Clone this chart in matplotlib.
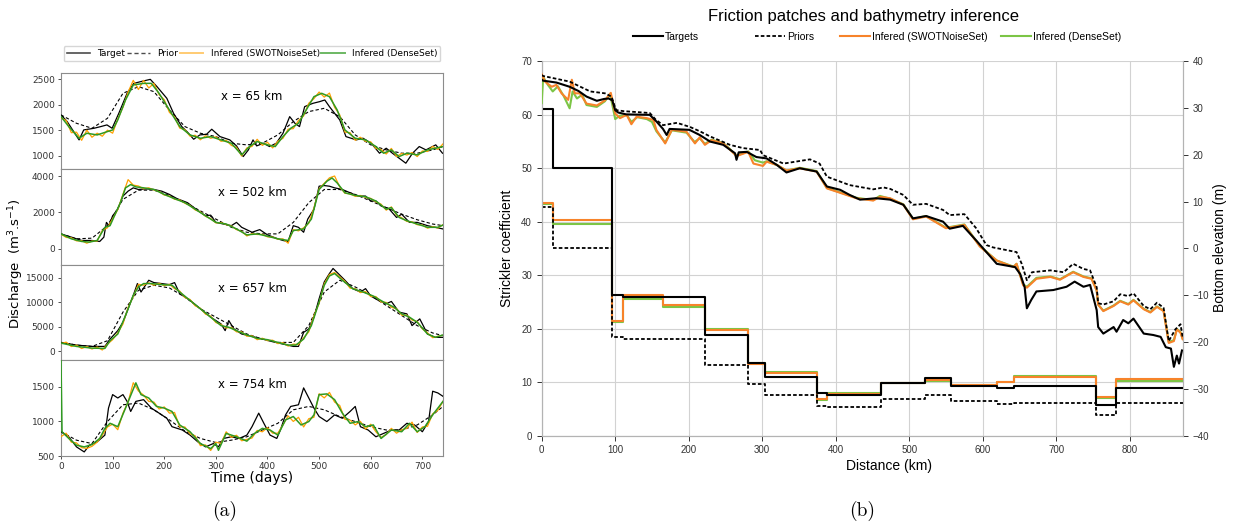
import numpy as np
import matplotlib.pyplot as plt
from matplotlib.lines import Line2D

W, H = 1237, 527

# ---------------- (a) discharge series ----------------
stations = ['x = 65 km', 'x = 502 km', 'x = 657 km', 'x = 754 km']
ylims = [(740, 2625), (-870, 4400), (-1790, 17730), (500, 1885)]
yticks = [[1000, 1500, 2000, 2500], [0, 2000, 4000], [0, 5000, 10000, 15000], [500, 1000, 1500]]

prior_days = [0, 30, 60, 90, 120, 150, 180, 210, 240, 270, 300, 330, 360, 390, 420, 450,
              480, 510, 540, 570, 600, 630, 660, 690, 720, 740]
swot_days = np.arange(0, 741, 10)

# x = 65 km
tgt1_days = [0, 12, 35, 44, 64, 77, 89, 99, 112, 128, 141, 154, 173, 186, 205, 218, 234, 244, 257, 269,
             282, 292, 308, 327, 340, 353, 363, 372, 379, 392, 404, 417, 430, 443, 453, 462, 472, 488,
             501, 511, 520, 540, 552, 572, 585, 601, 617, 630, 642, 655, 668, 681, 694, 707, 726, 739]
tgt1 = [1800, 1668, 1308, 1504, 1537, 1570, 1603, 1537, 1832, 2225, 2420, 2454, 2500, 2356, 2127, 1832,
        1570, 1472, 1321, 1406, 1419, 1518, 1373, 1308, 1190, 980, 1111, 1308, 1190, 1242, 1177, 1242,
        1439, 1766, 1636, 1570, 1963, 2028, 2061, 2094, 1963, 1701, 1373, 1308, 1341, 1242, 1046, 1144,
        1046, 948, 849, 1046, 1177, 1111, 1210, 1046]
prior1 = [1800, 1635, 1537, 1733, 2225, 2356, 2258, 1897, 1570, 1439, 1373, 1242, 1210, 1242, 1406,
          1668, 1865, 1930, 1766, 1406, 1210, 1111, 1046, 1046, 1111, 1177]
swot1 = [1740, 1690, 1450, 1460, 1300, 1500, 1360, 1440, 1380, 1500,
         1440, 1720, 1950, 2250, 2480, 2300, 2480, 2330, 2420, 2200,
         2100, 1850, 1760, 1540, 1510, 1380, 1400, 1310, 1390, 1340,
         1370, 1280, 1300, 1200, 1160, 990, 1150, 1180, 1320, 1200,
         1260, 1150, 1280, 1340, 1520, 1530, 1690, 1780, 2030, 2120,
         2250, 2150, 2230, 1950, 1800, 1460, 1450, 1300, 1360, 1280,
         1270, 1140, 1120, 1030, 1140, 980, 1040, 1010, 1060, 980,
         1090, 1080, 1180, 1120, 1230]
dense1_days = [0, 15, 35, 50, 70, 90, 100, 110, 125, 140, 160, 175, 190, 210, 230, 250, 270, 290, 310,
               330, 350, 365, 380, 400, 415, 430, 445, 460, 475, 490, 505, 520, 535, 550, 570, 590, 610,
               625, 640, 655, 670, 690, 710, 740]
dense1 = [1767, 1570, 1340, 1439, 1406, 1472, 1504, 1701, 2094, 2389, 2421, 2421, 2225, 1897, 1570, 1406,
          1340, 1373, 1308, 1242, 1013, 1177, 1275, 1210, 1177, 1373, 1537, 1635, 1897, 2159, 2225, 2159,
          1897, 1504, 1340, 1308, 1177, 1046, 1111, 980, 1046, 1013, 1111, 1177]

# x = 502 km
tgt2_days = [0, 20, 40, 60, 75, 83, 88, 93, 100, 110, 120, 130, 140, 150, 165, 180, 195, 210, 225, 245,
             260, 280, 290, 300, 315, 330, 340, 350, 370, 385, 400, 420, 430, 440, 450, 460, 470, 478,
             490, 500, 510, 520, 530, 545, 560, 575, 590, 600, 610, 620, 635, 650, 660, 675, 690, 710,
             725, 740]
tgt2 = [815, 634, 453, 453, 398, 634, 1448, 1267, 1810, 2172, 2896, 3168, 3349, 3258, 3294, 3258, 3168,
        2987, 2751, 2534, 2208, 1810, 1846, 1448, 1358, 1267, 1448, 1177, 905, 1050, 760, 543, 453, 398,
        1267, 1177, 905, 1629, 2172, 3439, 3475, 3439, 3349, 3258, 3077, 2896, 2896, 2625, 2625, 2353,
        2208, 1720, 1900, 1448, 1448, 1267, 1177, 1086]
prior2 = [815, 543, 579, 1267, 2715, 3222, 3222, 2932, 2534, 2082, 1629, 1177, 905, 815, 815, 1448,
          2534, 3258, 3258, 2987, 2625, 2263, 1900, 1593, 1358, 1267]
swot2 = [800, 620, 600, 430, 440, 300, 420, 420, 1000, 1150,
         1650, 2150, 3000, 3800, 3500, 3450, 3300, 3350, 3230, 3150,
         2950, 2900, 2720, 2680, 2500, 2380, 2130, 2030, 1780, 1660,
         1420, 1440, 1330, 1250, 1050, 950, 700, 830, 780, 790,
         650, 640, 520, 540, 300, 1050, 980, 1150, 1400, 2250,
         3300, 3600, 3900, 4000, 3400, 3050, 3020, 2880, 2930, 2820,
         2770, 2580, 2450, 2120, 2300, 1850, 1700, 1500, 1480, 1320,
         1300, 1130, 1210, 1140, 1320]
dense2_days = [0, 20, 40, 55, 70, 85, 95, 105, 115, 125, 135, 145, 160, 180, 200, 220, 240, 260, 280,
               300, 320, 340, 360, 380, 400, 420, 440, 450, 470, 485, 500, 515, 525, 535, 550, 570, 590,
               610, 630, 640, 655, 670, 690, 710, 730, 740]
dense2 = [815, 543, 398, 362, 453, 1177, 1267, 1900, 2534, 3349, 3530, 3403, 3349, 3258, 2987, 2751,
          2534, 2172, 1810, 1448, 1358, 1086, 760, 815, 688, 543, 453, 996, 1086, 1629, 3258, 3711, 3892,
          3620, 3077, 2932, 2860, 2625, 2172, 2263, 1720, 1539, 1358, 1177, 1177, 1303]

# x = 657 km
tgt3_days = [0, 30, 60, 85, 95, 110, 120, 130, 140, 148, 155, 170, 180, 195, 210, 220, 230, 250, 270,
             290, 310, 318, 325, 335, 350, 370, 390, 410, 430, 450, 460, 470, 480, 490, 500, 510, 520,
             527, 535, 550, 565, 580, 590, 600, 615, 630, 640, 655, 670, 680, 695, 710, 725, 740]
tgt3 = [1850, 1300, 1030, 1030, 2535, 4250, 5960, 8700, 11440, 13840, 12120, 14520, 14040, 13840, 13630,
        14040, 11780, 10410, 8700, 6990, 5617, 4250, 6300, 4590, 3560, 3080, 2535, 1987, 1507, 1030,
        1030, 3900, 4590, 6990, 10750, 14180, 15890, 16920, 16100, 14520, 12810, 12120, 12810, 11300,
        10410, 9730, 10200, 8010, 7670, 5275, 6640, 3560, 2880, 2880]
prior3 = [1850, 1300, 1030, 2190, 8010, 12470, 13500, 12950, 11100, 8700, 6990, 5275, 3560, 2535, 1850,
          1850, 5275, 12120, 14520, 13150, 11440, 9380, 7330, 5275, 3770, 3220]
swot3 = [1600, 1900, 1000, 1300, 600, 1000, 500, 900, 300, 1500,
         2400, 3800, 5600, 9000, 11200, 13700, 13500, 14000, 13500, 13900,
         13400, 13700, 12800, 12300, 11000, 10600, 9300, 8800, 7600, 7200,
         5900, 5500, 4800, 4900, 4000, 4000, 3100, 3200, 2400, 2700,
         2200, 2300, 1600, 1800, 1100, 1500, 1400, 2800, 4000, 7300,
         9800, 13800, 15700, 16100, 15200, 14300, 12900, 12800, 12000, 12200,
         11200, 11200, 10100, 10000, 9000, 8700, 7400, 7400, 6400, 6100,
         4600, 3800, 2800, 3100, 3300]
dense3_days = [0, 30, 60, 85, 95, 110, 125, 140, 150, 160, 175, 195, 215, 230, 250, 270, 290, 310, 325,
               340, 360, 380, 400, 420, 440, 455, 470, 485, 500, 510, 520, 530, 545, 565, 585, 605, 625,
               645, 660, 675, 690, 710, 725, 740]
dense3 = [1710, 1030, 685, 617, 2190, 3560, 7330, 11440, 13150, 13840, 13840, 13630, 13500, 12120, 10410,
          8700, 6990, 5275, 4930, 4250, 3360, 2670, 2400, 1850, 1300, 1300, 2535, 5275, 10070, 13500,
          15400, 15890, 14520, 12810, 12120, 11300, 10070, 9040, 7670, 6990, 5960, 3560, 2880, 3360]

# x = 754 km
tgt4_days = [0, 15, 30, 45, 55, 70, 85, 92, 100, 110, 120, 128, 135, 145, 160, 175, 190, 205, 215, 235,
             250, 265, 280, 295, 305, 315, 330, 345, 360, 370, 383, 393, 405, 418, 425, 435, 445, 460,
             470, 480, 490, 500, 515, 530, 545, 560, 570, 580, 595, 610, 625, 640, 655, 670, 685, 700,
             712, 720, 730, 740]
tgt4 = [851, 778, 632, 559, 656, 705, 802, 1193, 1388, 1339, 1388, 1290, 1144, 1290, 1315, 1193, 1120,
        1046, 924, 876, 802, 705, 632, 680, 632, 754, 778, 754, 802, 924, 1120, 973, 802, 754, 876, 1095,
        1217, 1241, 1485, 1339, 1193, 1071, 998, 1095, 1046, 1144, 1217, 924, 876, 778, 827, 876, 876,
        973, 949, 851, 998, 1437, 1412, 1363]
prior4 = [851, 729, 680, 998, 1241, 1266, 1168, 1022, 861, 754, 695, 729, 778, 876, 973, 1168, 1217,
          1168, 1071, 998, 924, 876, 876, 949, 1095, 1217]
swot4 = [780, 830, 700, 690, 620, 610, 640, 700, 800, 920,
         960, 880, 1120, 1280, 1560, 1440, 1380, 1290, 1280, 1180,
         1210, 1120, 1130, 920, 920, 820, 790, 650, 660, 580,
         700, 680, 850, 770, 800, 720, 740, 760, 870, 850,
         910, 830, 830, 950, 1080, 1000, 1060, 920, 1040, 1060,
         1400, 1340, 1420, 1280, 1230, 1030, 1020, 950, 1000, 890,
         960, 850, 770, 810, 900, 830, 880, 900, 990, 840,
         920, 930, 1110, 1160, 1290]
dense4_days = [0, 2, 15, 30, 45, 60, 75, 85, 95, 110, 125, 145, 155, 170, 185, 200, 215, 230, 250, 270,
               290, 300, 305, 320, 340, 360, 375, 390, 405, 420, 435, 450, 465, 480, 490, 500, 515, 530,
               545, 560, 575, 590, 605, 620, 640, 660, 675, 690, 705, 720, 740]
dense4 = [1880, 851, 754, 656, 632, 666, 754, 900, 973, 924, 1193, 1558, 1388, 1339, 1217, 1193, 1144,
          949, 851, 680, 607, 680, 583, 827, 778, 715, 827, 900, 876, 802, 1022, 1071, 949, 998, 1095,
          1388, 1398, 1315, 1120, 973, 998, 924, 949, 754, 876, 851, 973, 851, 924, 1095, 1290]

targets = [(tgt1_days, tgt1), (tgt2_days, tgt2), (tgt3_days, tgt3), (tgt4_days, tgt4)]
priors = [prior1, prior2, prior3, prior4]
swots = [swot1, swot2, swot3, swot4]
denses = [(dense1_days, dense1), (dense2_days, dense2), (dense3_days, dense3), (dense4_days, dense4)]

# ---------------- (b) friction patches and bathymetry ----------------
patch_edges = [0, 16, 95, 110, 165, 222, 281, 304, 374, 388, 461, 521, 557, 619, 643, 754, 781, 872]
k_target = [61, 50, 26.3, 25.9, 25.9, 18.9, 13.6, 11.0, 7.9, 7.6, 9.8, 10.8, 9.2, 9.0, 9.2, 5.8, 9.0]
k_prior = [42.7, 35.0, 18.5, 18.1, 18.1, 13.2, 9.6, 7.6, 5.6, 5.3, 6.9, 7.6, 6.4, 6.0, 6.2, 3.8, 6.2]
k_swot = [43.5, 40.3, 21.5, 26.3, 24.5, 19.7, 13.4, 11.7, 6.9, 7.8, 9.9, 10.4, 9.4, 10.1, 11.0, 7.3, 10.5]
k_dense = [43.2, 39.6, 21.2, 25.6, 24.1, 19.9, 13.5, 11.9, 6.6, 7.9, 9.8, 10.2, 9.4, 10.0, 11.15, 7.0, 10.15]

bt_km = [0, 2, 20, 38, 50, 61, 75, 85, 91, 96, 100, 104, 115, 147, 156, 165, 170, 174, 201, 215, 229,
         247, 263, 265, 268, 279, 292, 306, 320, 333, 351, 374, 388, 406, 419, 433, 455, 474, 492, 505,
         523, 546, 555, 573, 591, 605, 619, 644, 651, 657, 660, 666, 673, 696, 714, 725, 737, 746, 755,
         757, 764, 778, 782, 791, 798, 805, 819, 832, 842, 849, 856, 860, 864, 867, 871]
bt_z = [36.0, 35.8, 35.4, 34.5, 33.6, 32.4, 31.5, 31.9, 32.0, 31.6, 29.5, 29.0, 28.6, 28.5, 27.1, 25.5,
        24.2, 25.5, 25.3, 24.2, 22.8, 22.1, 20.3, 18.9, 20.5, 20.6, 19.5, 19.2, 17.8, 16.2, 17.1, 16.4,
        13.2, 12.5, 11.4, 10.4, 10.7, 10.4, 9.3, 6.4, 6.9, 5.7, 4.2, 4.8, 1.7, -0.8, -3.3, -4.0, -5.5,
        -8.3, -12.8, -11.0, -9.2, -8.9, -8.2, -7.1, -8.2, -7.8, -13.2, -16.8, -18.2, -16.8, -17.8, -15.3,
        -16.0, -15.0, -18.2, -18.5, -18.9, -21.1, -21.4, -25.3, -22.9, -24.6, -21.8]
bp_km = [0, 2, 20, 38, 66, 86, 95, 100, 102, 111, 147, 155, 165, 184, 202, 215, 229, 256, 274, 297, 301,
         329, 365, 378, 388, 419, 451, 465, 474, 492, 505, 523, 546, 555, 575, 591, 605, 614, 646, 653,
         660, 667, 692, 710, 723, 737, 746, 755, 757, 764, 778, 787, 798, 805, 819, 828, 837, 846, 853,
         862, 869, 872]
bp_z = [37.0, 36.8, 36.2, 35.6, 33.5, 33.1, 32.4, 30.0, 29.5, 29.3, 28.9, 27.5, 26.3, 26.8, 25.9, 25.0,
        23.9, 22.1, 21.4, 21.0, 19.9, 18.1, 19.0, 18.1, 15.3, 13.5, 12.6, 13.0, 12.7, 11.4, 9.3, 9.5, 8.2,
        7.1, 7.3, 4.3, 0.7, 0.2, -0.8, -3.3, -6.8, -5.1, -4.7, -5.1, -3.3, -4.4, -4.7, -8.3, -11.7, -12.0,
        -11.3, -9.8, -10.2, -9.6, -12.3, -13.0, -11.6, -12.7, -19.8, -17.3, -16.2, -19.1]
bs_km = [0, 4.5, 13.6, 20, 27, 36, 41, 45, 52, 61, 75, 86, 94, 100, 106.5, 115.6, 122, 129, 143, 152, 156,
         168, 177, 197, 208.5, 215, 222, 231, 238, 247, 256, 265, 281, 288, 301, 306, 320, 333, 351, 374,
         388, 428, 451, 460, 474, 492, 505, 523, 550, 575, 596, 605, 619, 642, 646, 655, 660, 673, 692,
         705, 723, 737, 748, 755, 757, 764, 778, 787, 798, 805, 819, 828, 837, 846, 853, 860, 864, 869,
         872]
bs_z = [37.2, 35.6, 34.5, 34.9, 33.1, 31.7, 36.0, 33.1, 33.1, 30.9, 30.5, 31.6, 33.2, 28.8, 27.8, 28.5,
        26.5, 28.1, 27.8, 27.4, 25.3, 22.4, 25.3, 24.9, 22.4, 23.7, 22.1, 23.1, 22.8, 22.4, 21.1, 19.7,
        20.6, 18.1, 17.6, 18.5, 17.8, 16.6, 17.1, 16.4, 12.8, 10.7, 10.2, 11.0, 10.7, 9.3, 6.2, 6.8, 4.3,
        5.0, 0.4, -0.8, -2.6, -4.0, -3.3, -7.9, -8.4, -6.5, -6.1, -6.7, -5.1, -6.1, -6.5, -9.0, -12.0,
        -13.4, -12.3, -11.3, -12.0, -11.1, -13.0, -13.7, -12.5, -13.4, -20.2, -19.8, -17.3, -18.0, -19.4]
bd_km = [0, 2, 8, 15, 22, 30, 38, 42, 48, 55, 61, 75, 86, 93, 100, 106, 116, 122, 130, 143, 150, 156,
         168, 177, 197, 208, 215, 222, 231, 247, 256, 265, 281, 290, 301, 306, 320, 333, 351, 374, 388,
         428, 451, 460, 474, 492, 505, 523, 550, 575, 596, 605, 619, 642, 646, 655, 660, 673, 692, 705,
         723, 737, 748, 755, 757, 764, 778, 787, 798, 805, 819, 828, 837, 846, 853, 860, 864, 869, 872]
bd_z = [31.0, 36.6, 35.0, 33.5, 34.6, 32.5, 29.9, 33.5, 32.0, 32.8, 30.6, 30.2, 31.4, 33.0, 27.6, 28.3,
        28.4, 27.0, 28.0, 27.6, 27.0, 25.0, 22.6, 25.2, 24.7, 22.7, 23.5, 22.3, 23.2, 22.5, 21.2, 19.8,
        20.7, 18.8, 18.3, 18.6, 17.8, 16.6, 17.2, 16.5, 12.9, 10.8, 10.3, 11.2, 10.6, 9.4, 6.3, 6.9, 4.4,
        5.1, 0.5, -0.7, -2.6, -3.9, -3.3, -7.7, -8.2, -6.3, -6.0, -6.6, -5.0, -6.0, -6.4, -9.0, -12.0,
        -13.3, -12.2, -11.2, -11.9, -11.0, -12.9, -13.6, -12.4, -13.3, -20.0, -19.6, -17.2, -17.9, -19.3]

# ---------------- figure ----------------
fig = plt.figure(figsize=(W / 100, H / 100), dpi=100)

c_orange = '#ffa000'
c_green = '#2f9a22'
spine_c = '#8c8c8c'

row_h = 95.75
axes_a = []
for k in range(4):
    top = 73 + k * row_h
    ax = fig.add_axes([61 / W, 1 - (top + row_h) / H, 382 / W, row_h / H])
    d, v = targets[k]
    ax.plot(d, v, color='black', lw=0.9, zorder=3)
    ax.plot(prior_days, priors[k], color='black', lw=0.8, ls=(0, (3, 2)), zorder=2)
    ax.plot(swot_days, swots[k], color=c_orange, lw=0.9, zorder=4)
    dd, dv = denses[k]
    ax.plot(dd, dv, color=c_green, lw=1.1, zorder=5)
    ax.set_xlim(0, 740)
    ax.set_ylim(*ylims[k])
    ax.set_yticks(yticks[k])
    ax.text(0.5, 0.75, stations[k], transform=ax.transAxes, ha='center', va='center', fontsize=8.5)
    ax.tick_params(axis='both', labelsize=6.5, colors='#333333', length=2.5, width=0.6, pad=2)
    for s in ax.spines.values():
        s.set_color(spine_c)
        s.set_linewidth(0.8)
    if k < 3:
        ax.tick_params(axis='x', bottom=False, labelbottom=False)
    else:
        ax.set_xticks(range(0, 701, 100))
        ax.set_xlabel('Time (days)', fontsize=10, labelpad=0)
    axes_a.append(ax)

fig.text(16 / W, 1 - 264 / H, 'Discharge  (m$^3$.s$^{-1}$)', rotation=90,
         ha='center', va='center', fontsize=9.5)

handles_a = [Line2D([], [], color='black', lw=1.2, alpha=0.7),
             Line2D([], [], color='black', lw=1.0, ls=(0, (3, 2)), alpha=0.7),
             Line2D([], [], color=c_orange, lw=1.4, alpha=0.55),
             Line2D([], [], color=c_green, lw=1.4, alpha=0.7)]
fig.legend(handles_a, ['Target', 'Prior', 'Infered (SWOTNoiseSet)', 'Infered (DenseSet)'],
           loc='lower left', bbox_to_anchor=(59 / W, 1 - 66 / H, 386 / W, 18 / H), mode='expand',
           ncol=4, fontsize=6.5, handlelength=2.6, handletextpad=0.8, borderpad=0.35,
           edgecolor='#cccccc', fancybox=True)

fig.text(225 / W, 1 - 511 / H, '(a)', fontfamily='cmr10', fontsize=14, ha='center', va='center')
fig.text(862 / W, 1 - 511 / H, '(b)', fontfamily='cmr10', fontsize=14, ha='center', va='center')

# ---------------- right panel ----------------
narrow = ['Liberation Sans Narrow', 'Liberation Sans']
c_or2 = '#f7832a'
c_gr2 = '#7cc546'
grid_c = '#d2d2d2'

axb = fig.add_axes([541.7 / W, 1 - 435.7 / H, 641 / W, 374.7 / H])
ax2 = axb.twinx()

step_x = patch_edges
axb.step(step_x, k_dense + [k_dense[-1]], where='post', color=c_gr2, lw=1.5, zorder=3)
axb.step(step_x, k_swot + [k_swot[-1]], where='post', color=c_or2, lw=1.5, zorder=4)
axb.step(step_x, k_prior + [k_prior[-1]], where='post', color='black', lw=1.3,
         ls=(0, (2, 1.2)), zorder=5)
axb.step(step_x, k_target + [k_target[-1]], where='post', color='black', lw=1.5, zorder=6)

ax2.plot(bd_km, bd_z, color=c_gr2, lw=1.5, zorder=3)
ax2.plot(bs_km, bs_z, color=c_or2, lw=1.5, zorder=4)
ax2.plot(bp_km, bp_z, color='black', lw=1.3, ls=(0, (2, 1.2)), zorder=5)
ax2.plot(bt_km, bt_z, color='black', lw=1.5, zorder=6)

axb.set_xlim(0, 872)
axb.set_ylim(0, 70)
ax2.set_ylim(-40, 40)
axb.set_xticks(range(0, 801, 100))
axb.set_yticks(range(0, 71, 10))
ax2.set_yticks(range(-40, 41, 10))
axb.grid(True, color=grid_c, lw=0.8)
axb.set_axisbelow(True)

for a in (axb, ax2):
    a.tick_params(labelsize=7, colors='#333333', length=3.5, width=0.7)
    for lab in a.get_xticklabels() + a.get_yticklabels():
        lab.set_fontfamily(narrow)
    for s in a.spines.values():
        s.set_color('#b3b3b3')
        s.set_linewidth(0.8)
    a.spines['top'].set_visible(False)

fig.text(507 / W, 1 - 248 / H, 'Strickler coefficient', rotation=90, ha='center', va='center',
         fontsize=10, family=narrow)
fig.text(1220 / W, 1 - 248 / H, 'Bottom elevation (m)', rotation=90, ha='center', va='center',
         fontsize=10, family=narrow)
fig.text(889 / W, 1 - 466 / H, 'Distance (km)', ha='center', va='center', fontsize=10, family=narrow)
fig.text(863 / W, 1 - 17 / H, 'Friction patches and bathymetry inference', ha='center', va='center',
         fontsize=12, family=narrow)

# legend of (b): one entry per slot, at the positions used in the original
handles_b = [Line2D([], [], color='black', lw=1.5),
             Line2D([], [], color='black', lw=1.3, ls=(0, (2, 1.2))),
             Line2D([], [], color=c_or2, lw=1.5),
             Line2D([], [], color=c_gr2, lw=1.5)]
labels_b = ['Targets', 'Priors', 'Infered (SWOTNoiseSet)', 'Infered (DenseSet)']
slots_b = [633, 755, 840, 1001]
for hnd, lab, xs in zip(handles_b, labels_b, slots_b):
    leg = fig.legend([hnd], [lab], loc='center left', bbox_to_anchor=(xs / W, 1 - 37 / H),
                     frameon=False, prop={'family': narrow, 'size': 7.5}, handlelength=2.9,
                     handletextpad=0.2, borderpad=0, borderaxespad=0)

plt.savefig('out.png', dpi=100)
